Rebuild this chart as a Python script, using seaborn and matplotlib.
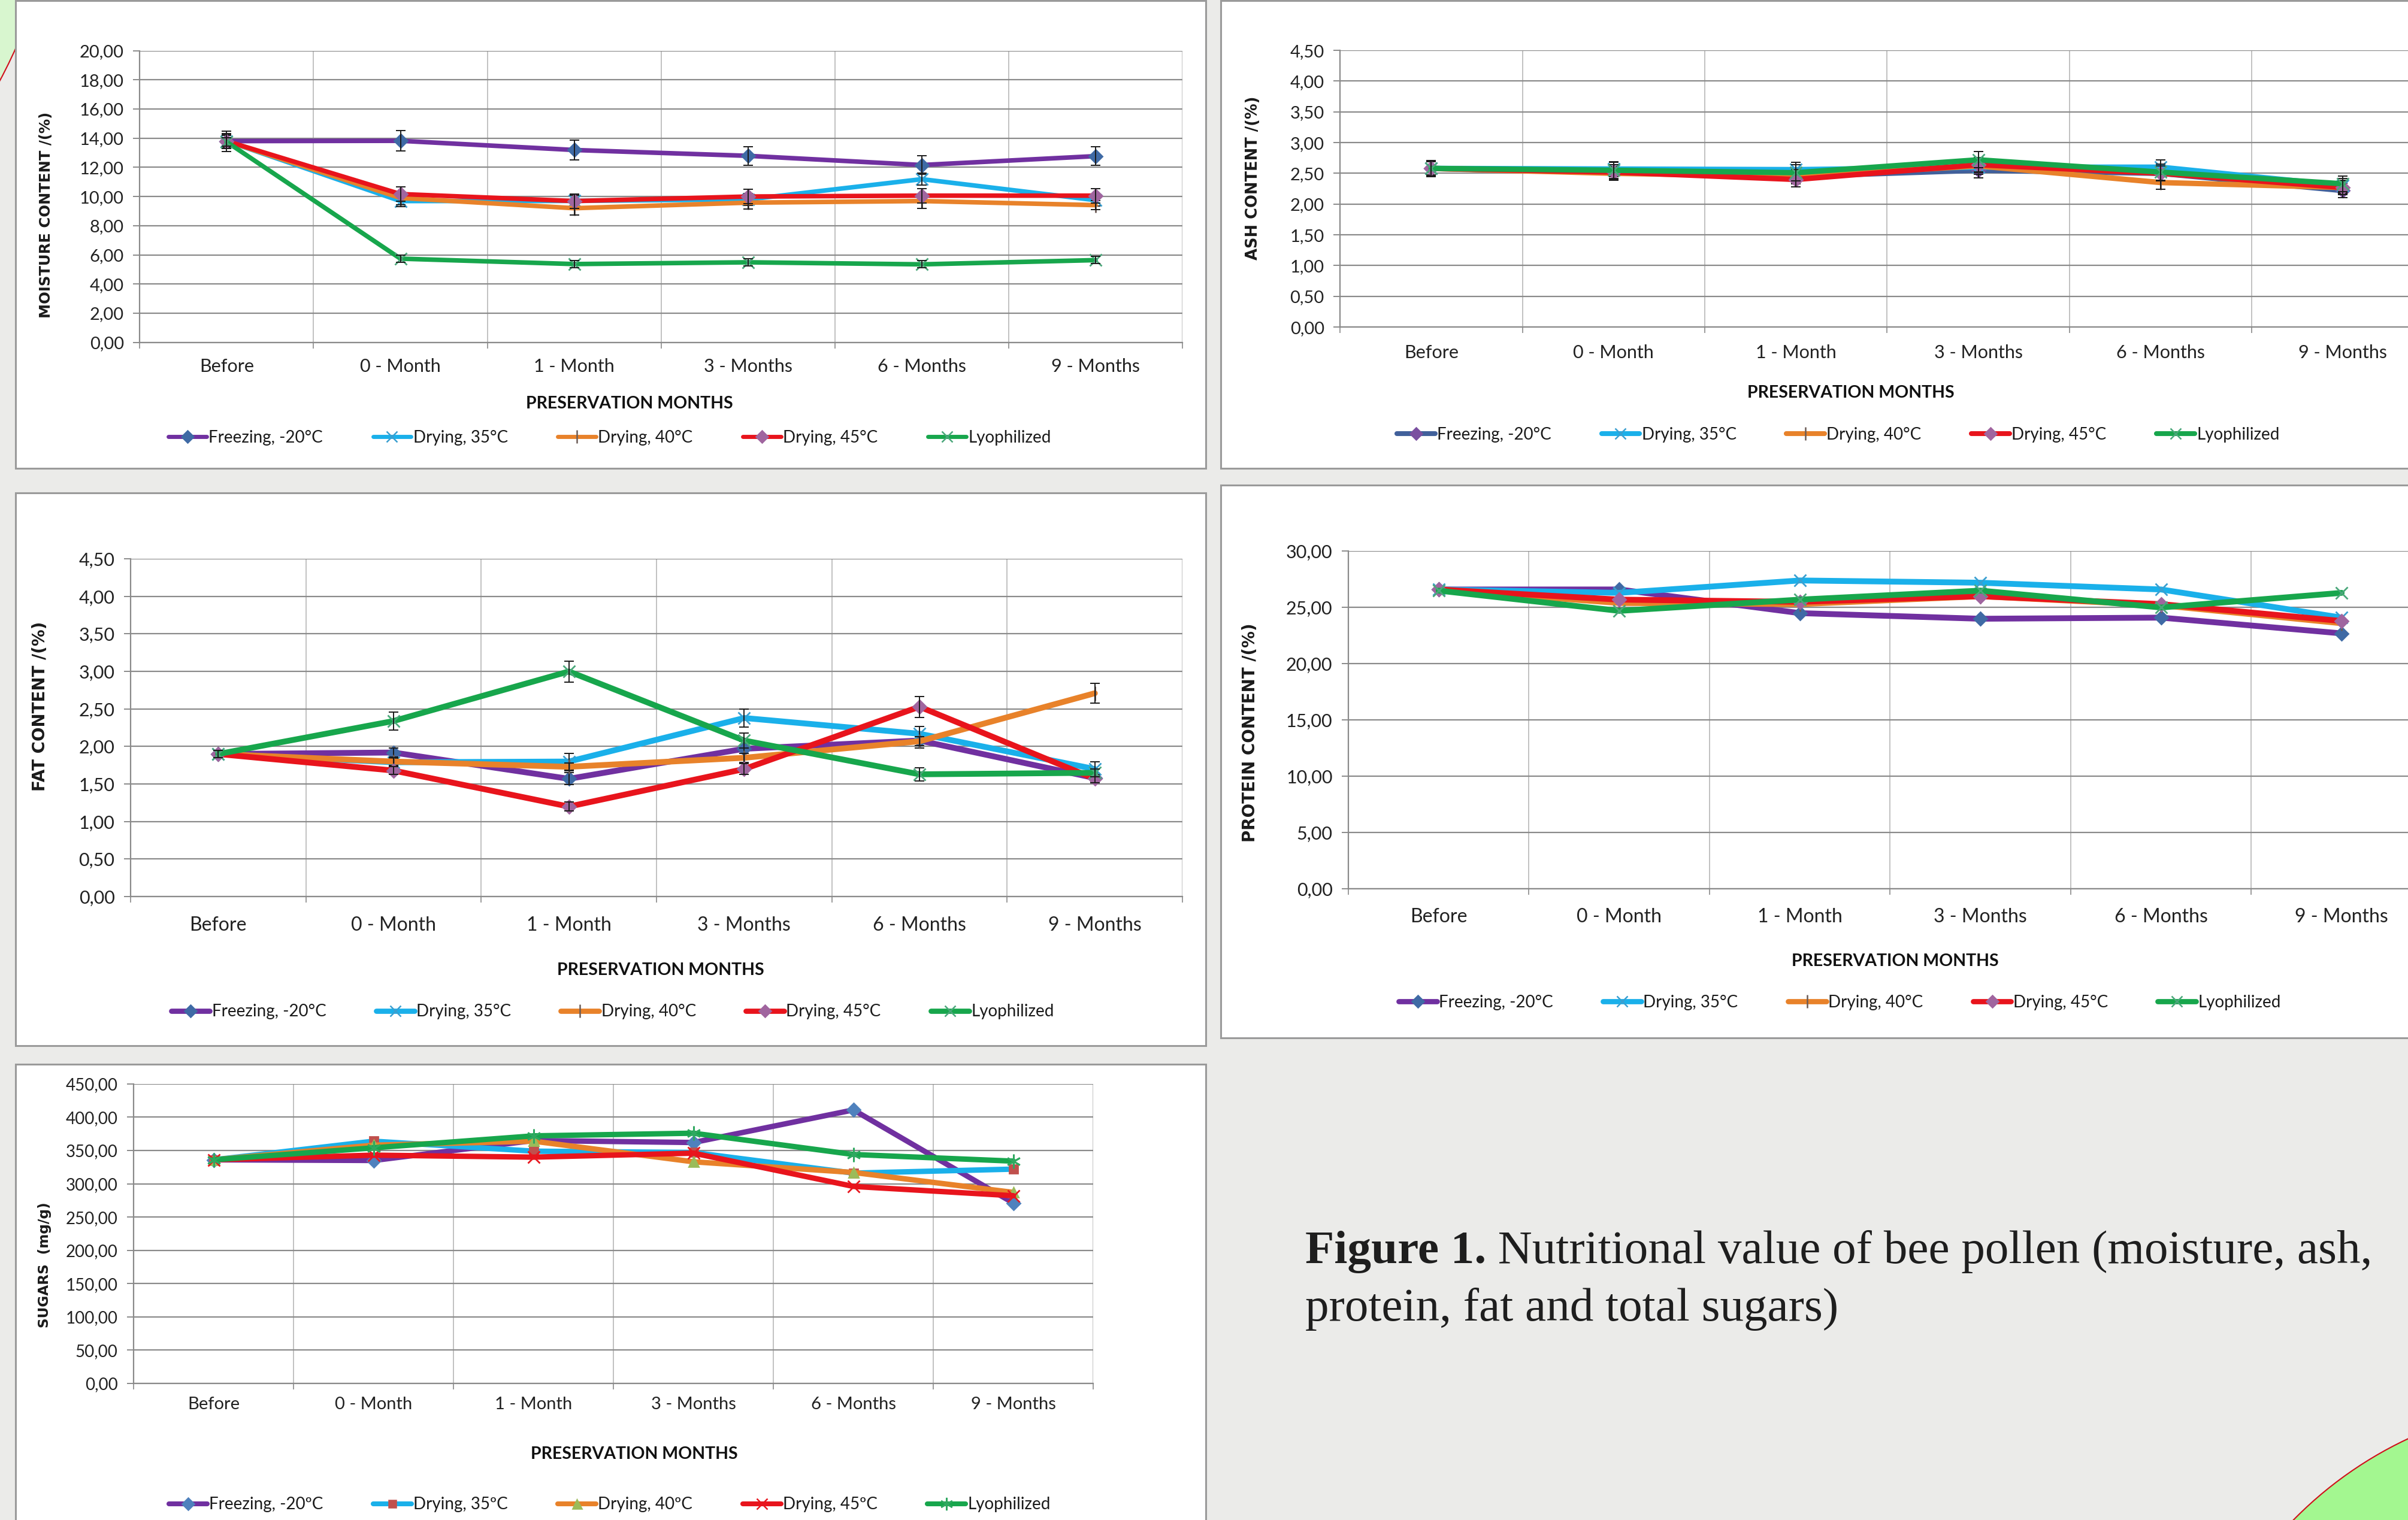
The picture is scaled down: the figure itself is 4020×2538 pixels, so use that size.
import numpy as np
import pandas as pd
import matplotlib
matplotlib.use("Agg")
import matplotlib.pyplot as plt
from matplotlib.patches import Rectangle, Ellipse
from matplotlib.lines import Line2D
from matplotlib.ticker import FuncFormatter
import seaborn as sns

# ---------------------------------------------------------
# data
# ---------------------------------------------------------
months = ["Before", "0 - Month", "1 - Month", "3 - Months", "6 - Months", "9 - Months"]
treatments = ["Freezing, -20°C", "Drying, 35°C", "Drying, 40°C", "Drying, 45°C", "Lyophilized"]
treatments_sugar = ["Freezing, -20ºC", "Drying, 35ºC", "Drying, 40ºC", "Drying, 45ºC", "Lyophilized"]

moist_freezing = [13.80, 13.82, 13.19, 12.79, 12.16, 12.77]
moist_dry35 = [13.80, 9.69, 9.70, 9.80, 11.19, 9.75]
moist_dry40 = [13.80, 9.90, 9.20, 9.58, 9.69, 9.41]
moist_dry45 = [13.80, 10.17, 9.69, 10.00, 10.06, 10.06]
moist_lyo = [13.75, 5.74, 5.37, 5.49, 5.35, 5.64]
moist_err = [[0.70, 0.70, 0.67, 0.64, 0.64, 0.64],
             [0.40, 0.40, 0.40, 0.40, 0.40, 0.40],
             [0.45, 0.45, 0.46, 0.45, 0.50, 0.30],
             [0.50, 0.50, 0.50, 0.50, 0.50, 0.50],
             [0.30, 0.25, 0.25, 0.25, 0.25, 0.25]]

ash_freezing = [2.58, 2.52, 2.45, 2.55, 2.50, 2.22]
ash_dry35 = [2.58, 2.57, 2.56, 2.60, 2.60, 2.30]
ash_dry40 = [2.58, 2.50, 2.45, 2.62, 2.35, 2.27]
ash_dry45 = [2.58, 2.52, 2.40, 2.64, 2.50, 2.27]
ash_lyo = [2.58, 2.55, 2.51, 2.72, 2.52, 2.33]
ash_err = [[0.12] * 6, [0.12] * 6, [0.11] * 6, [0.12] * 6, [0.13] * 6]

fat_freezing = [1.90, 1.92, 1.57, 1.97, 2.08, 1.58]
fat_dry35 = [1.90, 1.79, 1.80, 2.38, 2.17, 1.70]
fat_dry40 = [1.90, 1.80, 1.73, 1.85, 2.07, 2.71]
fat_dry45 = [1.90, 1.68, 1.20, 1.70, 2.53, 1.57]
fat_lyo = [1.90, 2.34, 3.00, 2.08, 1.63, 1.65]
fat_err = [[0.05, 0.06, 0.08, 0.10, 0.10, 0.05],
           [0.05, 0.05, 0.11, 0.12, 0.10, 0.10],
           [0.05, 0.05, 0.05, 0.06, 0.06, 0.13],
           [0.05, 0.05, 0.06, 0.07, 0.14, 0.05],
           [0.05, 0.12, 0.14, 0.10, 0.085, 0.05]]

prot_freezing = [26.6, 26.6, 24.5, 24.0, 24.1, 22.7]
prot_dry35 = [26.6, 26.3, 27.4, 27.2, 26.6, 24.1]
prot_dry40 = [26.6, 25.4, 25.3, 26.0, 25.2, 23.6]
prot_dry45 = [26.6, 25.7, 25.5, 26.0, 25.3, 23.8]
prot_lyo = [26.5, 24.7, 25.7, 26.5, 25.0, 26.3]

sug_freezing = [336, 335, 365, 362, 411, 271]
sug_dry35 = [336, 364, 349, 347, 316, 322]
sug_dry40 = [336, 358, 364, 333, 317, 287]
sug_dry45 = [336, 343, 340, 346, 296, 282]
sug_lyo = [336, 354, 372, 376, 344, 334]

# y axis: (max, step)
moist_axis = (20, 2)
ash_axis = (4.5, 0.5)
fat_axis = (4.5, 0.5)
prot_axis = (30, 5)
sug_axis = (450, 50)

# ---------------------------------------------------------
# styles
# ---------------------------------------------------------
sns.set_theme(style="white")
plt.rcParams["font.family"] = ["Lato", "DejaVu Sans"]

PURPLE, BLUE, ORANGE, RED, GREEN = "#7030a0", "#1ab0ea", "#e8822a", "#e8141c", "#17a64c"
GRID = "#8a8a8a"

std_styles = [  # line colour, marker, marker colour, marker size
    (PURPLE, "D", "#3f6aa5", 11),
    (BLUE, "x", "#3a9fd0", 15),
    (ORANGE, "|", "#6b5b55", 17),
    (RED, "D", "#a0659f", 11),
    (GREEN, "x", "#4aa77a", 15),
]
ash_styles = [("#41609b", "D", "#7a4fa0", 11)] + std_styles[1:]
sug_styles = [
    (PURPLE, "D", "#4f81bd", 11),
    (BLUE, "s", "#c0504d", 10),
    (ORANGE, "^", "#9bbb59", 12),
    (RED, "x", "#e8161e", 15),
    (GREEN, (6, 2, 0), "#2fa860", 17),
]

W, H = 1568, 990


def fx(x):
    return x / W


def fy(y):
    return 1 - y / H


def to_long(series, names):
    rows = []
    for name, vals in zip(names, series):
        for i, v in enumerate(vals):
            rows.append({"pos": i, "month": months[i], "value": v, "treatment": name})
    return pd.DataFrame(rows)


fig = plt.figure(figsize=(40.2, 25.38), dpi=100, facecolor="#ebebe9")

# decorative corner circles
fig.add_artist(Ellipse((-819 / 4020, 1 + 300 / 2538), 1854 / 4020, 1854 / 2538,
                       facecolor="#d8f6cf", edgecolor="#d0101a", lw=1.5, zorder=-3))
fig.add_artist(Ellipse((4300 / 4020, 1 - 3000 / 2538), 1320 / 4020, 1320 / 2538,
                       facecolor="#a3f790", edgecolor="#d0101a", lw=1.5, zorder=-3))

panels = [
    dict(series=[moist_freezing, moist_dry35, moist_dry40, moist_dry45, moist_lyo], err=moist_err,
         names=treatments, styles=std_styles, axis=moist_axis, ylabel="MOISTURE CONTENT /(%)",
         box=(10, 0.5, 785, 305), rect=(91, 33, 770, 223), xpad=19, lw=5.5,
         yl=(30, 140, 17.5), xl=(410, 263), leg=(397, 285), tick=21),
    dict(series=[ash_freezing, ash_dry35, ash_dry40, ash_dry45, ash_lyo], err=ash_err,
         names=treatments, styles=ash_styles, axis=ash_axis, ylabel="ASH CONTENT /(%)",
         box=(795, 0.5, 1580, 305), rect=(872.6, 32.8, 1585, 213), xpad=21, lw=6.5,
         yl=(816, 116, 18.5), xl=(1205, 256), leg=(1197, 283), tick=21),
    dict(series=[fat_freezing, fat_dry35, fat_dry40, fat_dry45, fat_lyo], err=fat_err,
         names=treatments, styles=std_styles, axis=fat_axis, ylabel="FAT CONTENT /(%)",
         box=(10, 321, 785, 681), rect=(85, 364, 770, 584), xpad=24, lw=7,
         yl=(26, 460, 20), xl=(430, 632), leg=(399, 659), tick=22),
    dict(series=[prot_freezing, prot_dry35, prot_dry40, prot_dry45, prot_lyo], err=None,
         names=treatments, styles=std_styles, axis=prot_axis, ylabel="PROTEIN CONTENT /(%)",
         box=(795, 316, 1580, 676), rect=(878, 359, 1583.6, 579), xpad=23, lw=7,
         yl=(814, 477, 20), xl=(1234, 626), leg=(1198, 653), tick=22),
    dict(series=[sug_freezing, sug_dry35, sug_dry40, sug_dry45, sug_lyo], err=None,
         names=treatments_sugar, styles=sug_styles, axis=sug_axis, ylabel="SUGARS  (mg/g)",
         box=(10, 693, 785, 1005), rect=(87, 706, 712, 901), xpad=16, lw=6.5,
         yl=(29, 824, 16.7), xl=(413, 947), leg=(397, 980), tick=20),
]

fmt = FuncFormatter(lambda v, p: f"{v:.2f}".replace(".", ","))

for p in panels:
    bx0, by0, bx1, by1 = p["box"]
    fig.add_artist(Rectangle((fx(bx0), fy(by1)), fx(bx1) - fx(bx0), fy(by0) - fy(by1),
                             facecolor="white", edgecolor="#9a9a9a", lw=2.2, zorder=-1))
    x0, y0, x1, y1 = p["rect"]
    ax = fig.add_axes([fx(x0), fy(y1), fx(x1) - fx(x0), fy(y0) - fy(y1)])
    ax.set_facecolor("white")

    df = to_long(p["series"], p["names"])
    for k, name in enumerate(p["names"]):
        lc, mk, mc, ms = p["styles"][k]
        sub = df[df["treatment"] == name]
        sns.lineplot(data=sub, x="pos", y="value", ax=ax, color=lc, lw=p["lw"], sort=False,
                     errorbar=None, legend=False, marker=mk, markersize=ms,
                     markerfacecolor=mc, markeredgecolor=mc, markeredgewidth=2.0, zorder=3 + k)
        if p["err"] is not None:
            ax.errorbar(sub["pos"], sub["value"], yerr=p["err"][k], fmt="none",
                        ecolor="#1a1a1a", elinewidth=1.4, capsize=6, capthick=1.4, zorder=3 + k)

    ymax, ystep = p["axis"]
    ax.set_xlim(-0.5, 5.5)
    ax.set_ylim(0, ymax)
    ax.set_yticks(np.arange(0, ymax + ystep / 2, ystep))
    ax.yaxis.set_major_formatter(fmt)
    ax.set_xticks(range(len(months)))
    ax.set_xticklabels(months)
    ax.set_xticks(np.arange(-0.5, 6), minor=True)
    ax.set_xlabel("")
    ax.set_ylabel("")
    ax.grid(axis="y", which="major", color=GRID, lw=1.6)
    ax.grid(axis="x", which="minor", color="#b0b0b0", lw=1.1)
    ax.grid(axis="x", which="major", visible=False)
    for s in ["top", "right"]:
        ax.spines[s].set_visible(False)
    for s in ["left", "bottom"]:
        ax.spines[s].set_color(GRID)
        ax.spines[s].set_linewidth(1.6)
    ax.tick_params(axis="y", which="major", left=True, length=8, width=1.4, color=GRID,
                   direction="out", pad=11, labelsize=p["tick"], labelcolor="#222222")
    ax.tick_params(axis="x", which="major", bottom=False, length=0, pad=p["xpad"],
                   labelsize=p["tick"] + 1, labelcolor="#222222")
    ax.tick_params(axis="x", which="minor", bottom=True, length=7, width=1.2, color=GRID,
                   direction="out")
    ax.set_axisbelow(True)

    # axis titles
    yx, yy, ys = p["yl"]
    fig.text(fx(yx), fy(yy), p["ylabel"], rotation=90, ha="center", va="center",
             fontsize=ys, fontweight="bold", family=["DejaVu Sans"], color="#1a1a1a")
    xx, xy = p["xl"]
    fig.text(fx(xx), fy(xy), "PRESERVATION MONTHS", ha="center", va="center",
             fontsize=20.5, fontweight="bold", color="#111111")

    # legend
    handles = []
    for k in range(5):
        lc, mk, mc, ms = p["styles"][k]
        handles.append(Line2D([], [], color=lc, lw=p["lw"] * 0.9, marker=mk, markersize=ms * 0.9,
                              markerfacecolor=mc, markeredgecolor=mc, markeredgewidth=1.8))
    lx, ly = p["leg"]
    fig.legend(handles, p["names"], loc="center", bbox_to_anchor=(fx(lx), fy(ly)), ncol=5,
               frameon=False, fontsize=20, handlelength=2.3, handletextpad=0.12,
               columnspacing=3.0, labelcolor="#1a1a1a")

# caption
cap_font = ["Liberation Serif", "DejaVu Serif"]
t1 = fig.text(fx(850), fy(822.6), "Figure 1.", fontsize=57, fontweight="bold",
              family=cap_font, color="#1e1e1e", va="baseline", ha="left")
fig.canvas.draw()
bb = t1.get_window_extent()
fig.text(bb.x1 / fig.bbox.width, fy(822.6), " Nutritional value of bee pollen (moisture, ash,",
         fontsize=57, family=cap_font, color="#1e1e1e", va="baseline", ha="left")
fig.text(fx(850), fy(860), "protein, fat and total sugars)", fontsize=57, family=cap_font,
         color="#1e1e1e", va="baseline", ha="left")

fig.savefig("out.png", dpi=100, facecolor=fig.get_facecolor())
